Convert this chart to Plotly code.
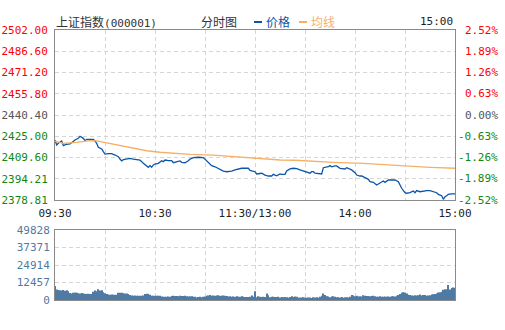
import plotly.graph_objects as go

# ---------------- data ----------------
prev_close = 2440.40

price_minute = [0, 1, 2, 4, 5, 7, 9, 10, 12, 14, 15, 17, 18, 19, 21, 23, 24, 25, 26, 28, 29, 30,
                32, 34, 36, 38, 39, 40, 41, 43, 45, 47, 49, 51, 53, 55, 56, 57, 58, 59, 60, 62,
                64, 65, 66, 68, 70, 71, 73, 75, 76, 78, 80, 81, 83, 86, 89, 90, 91, 93, 94, 96,
                97, 99, 101, 103, 105, 106, 108, 110, 112, 114, 116, 117, 119, 120, 121, 123, 124,
                126, 128, 130, 131, 133, 134, 135, 136, 138, 139, 141, 143, 145, 147, 149, 150,
                151, 153, 154, 155, 156, 158, 160, 161, 163, 164, 165, 166, 168, 169, 171, 173,
                174, 175, 177, 178, 180, 181, 183, 184, 186, 188, 189, 191, 193, 195, 197, 198,
                199, 200, 202, 204, 206, 207, 208, 210, 211, 213, 215, 216, 217, 219, 221, 223,
                225, 227, 229, 230, 232, 233, 234, 235, 236, 238, 240]
price_value = [2422.3, 2418.7, 2419.9, 2421.6, 2418.2, 2419.2, 2419.4, 2420.6, 2422.3, 2423.5, 2425.0,
               2423.5, 2421.8, 2422.8, 2422.8, 2422.8, 2421.6, 2419.9, 2417.0, 2415.8, 2413.8, 2412.1,
               2412.4, 2412.4, 2411.4, 2410.2, 2408.5, 2407.1, 2408.0, 2408.5, 2409.0, 2408.5, 2408.3,
               2407.8, 2405.4, 2403.7, 2402.5, 2403.7, 2402.5, 2404.2, 2404.9, 2405.4, 2407.3, 2406.6,
               2407.8, 2407.3, 2407.3, 2405.8, 2406.6, 2407.1, 2406.1, 2405.8, 2407.3, 2408.5, 2409.5,
               2409.8, 2409.5, 2408.3, 2406.6, 2404.2, 2403.7, 2402.9, 2402.2, 2401.3, 2399.8, 2399.3,
               2399.3, 2399.8, 2400.6, 2401.3, 2401.8, 2401.8, 2401.8, 2400.3, 2399.3, 2399.3, 2397.7,
               2397.7, 2398.2, 2396.9, 2396.2, 2396.2, 2397.4, 2396.4, 2396.9, 2397.7, 2397.4, 2397.4,
               2399.8, 2401.3, 2401.8, 2401.5, 2400.6, 2399.8, 2399.3, 2399.3, 2398.2, 2399.3, 2399.3,
               2398.2, 2397.7, 2397.7, 2402.2, 2402.5, 2402.9, 2403.7, 2402.9, 2403.5, 2403.5, 2401.8,
               2401.1, 2401.3, 2402.2, 2401.1, 2400.6, 2398.6, 2396.9, 2396.2, 2396.2, 2395.0, 2393.8,
               2392.1, 2391.6, 2389.7, 2390.9, 2392.6, 2391.6, 2392.6, 2393.3, 2393.3, 2393.3, 2392.1,
               2389.7, 2387.3, 2384.1, 2383.7, 2384.1, 2385.3, 2384.1, 2385.6, 2384.8, 2385.3, 2385.6,
               2385.6, 2384.8, 2384.1, 2382.9, 2381.9, 2379.3, 2381.2, 2381.9, 2382.9, 2383.2, 2383.2]

avg_minute = [0, 5, 13, 21, 25, 29, 33, 39, 48, 55, 63, 71, 81, 95, 103, 111, 120, 127, 135,
              144, 151, 167, 185, 192, 196, 209, 217, 225, 240]
avg_value = [2421.5, 2419.9, 2420.6, 2421.8, 2421.6, 2420.6, 2419.9, 2418.2, 2416.3, 2414.5,
             2413.4, 2412.6, 2411.9, 2411.4, 2410.7, 2409.8, 2409.0, 2408.3, 2407.8, 2407.6,
             2407.1, 2406.1, 2405.4, 2404.9, 2404.7, 2403.7, 2402.9, 2402.5, 2401.8]

volume = [
    9900, 7500, 7100, 7000, 6800, 7200, 6500, 7000, 6300, 5000,
    4600, 5200, 5300, 5100, 4800, 4700, 5000, 4700, 4500, 4300,
    4400, 4300, 4300, 5800, 6800, 6200, 7600, 6700, 7000, 5600,
    4800, 4300, 3900, 3800, 3900, 3800, 3800, 3700, 5100, 5200,
    5100, 4800, 4600, 4700, 4300, 3500, 3200, 3100, 3200, 3100,
    3000, 3100, 3000, 3200, 4300, 4500, 4200, 3800, 3100, 3000,
    3000, 3100, 3100, 3000, 2500, 2400, 2400, 2300, 2500, 2400,
    2900, 3100, 2800, 2900, 2700, 3000, 2800, 2900, 3100, 2700,
    2500, 2600, 2700, 2400, 2300, 1800, 2100, 2300, 1900, 2400,
    2500, 3100, 3200, 3500, 3100, 3200, 3000, 3200, 3300, 3100,
    3000, 3200, 3100, 2900, 2500, 2600, 2400, 2500, 2300, 2600,
    2400, 2300, 2600, 2400, 2100, 2200, 2100, 2300, 3200, 2400,
    6200, 2000, 2700, 2400, 2100, 2300, 2100, 4600, 3300, 2000,
    2400, 2300, 2200, 2100, 2300, 1700, 2100, 1900, 2200, 2000,
    1600, 2100, 2700, 2200, 2500, 2400, 1600, 1800, 1700, 1900,
    1800, 1600, 1700, 1800, 1500, 1900, 1700, 2000, 1600, 2300,
    3000, 4600, 3600, 2700, 2500, 2000, 2500, 2600, 2300, 1900,
    2000, 1800, 2100, 1600, 2000, 1900, 1800, 2300, 3500, 3200,
    2700, 3000, 2500, 2600, 2500, 3300, 3100, 2900, 2800, 2700,
    2900, 3000, 2700, 2400, 2300, 2600, 2400, 2300, 2500, 2400,
    2500, 2300, 2600, 2700, 2500, 3100, 3600, 4300, 5200, 5600,
    5400, 4600, 3800, 3500, 3200, 3100, 3300, 3200, 3400, 3900,
    3200, 3600, 3500, 3100, 3200, 3400, 3900, 4100, 4200, 4700,
    5300, 5500, 5900, 7300, 7700, 7600, 10700, 7500, 8600, 8900,
    8800,
]
volume_minute = list(range(len(volume)))

x_tick_vals = [0, 30, 60, 90, 120, 150, 180, 210, 240]
x_tick_text = ["09:30", "", "10:30", "", "11:30/13:00", "", "14:00", "", "15:00"]
price_tick_vals = [2378.81, 2394.21, 2409.60, 2425.00, 2440.40, 2455.80, 2471.20, 2486.60, 2502.00]
price_tick_text = ["2378.81", "2394.21", "2409.60", "2425.00", "2440.40", "2455.80", "2471.20", "2486.60", "2502.00"]
pct_tick_text = ["-2.52%", "-1.89%", "-1.26%", "-0.63%", "0.00%", "0.63%", "1.26%", "1.89%", "2.52%"]
vol_tick_vals = [0, 12457, 24914, 37371, 49828]
vol_tick_text = ["0", "12457", "24914", "37371", "49828"]

# ---------------- styling ----------------
W, H = 505, 330
RED, GREEN, GREY = "#ff0000", "#118811", "#555555"
PRICE_C, AVG_C, BAR_C = "#0b56a6", "#f5b068", "#4f7aa3"
GRID_C, BORDER_C = "#d6d6d6", "#8a8a8a"
MONO = "DejaVu Sans Mono"
CJK = "Noto Sans CJK SC"
DASH = "4px,3px"


def px_x(p):
    return p / W


def px_y(p):
    return 1 - p / H


def tick_color(v):
    if abs(v - prev_close) < 0.01:
        return GREY
    return RED if v > prev_close else GREEN


left_text = [f"<span style='color:{tick_color(v)}'>{t}</span>" for v, t in zip(price_tick_vals, price_tick_text)]

fig = go.Figure()
fig.add_trace(go.Scatter(x=price_minute, y=price_value, mode="lines",
                         line=dict(color=PRICE_C, width=1.3), xaxis="x", yaxis="y", name="价格"))
fig.add_trace(go.Scatter(x=avg_minute, y=avg_value, mode="lines",
                         line=dict(color=AVG_C, width=1.3), xaxis="x", yaxis="y", name="均线"))
fig.add_trace(go.Bar(x=volume_minute, y=volume, marker=dict(color=BAR_C, line=dict(width=0)),
                     xaxis="x2", yaxis="y3", name="成交量"))

common_x = dict(range=[0, 240], tickvals=x_tick_vals, showgrid=True, gridcolor=GRID_C,
                griddash=DASH, gridwidth=1, zeroline=False, showline=True, mirror=True,
                linecolor=BORDER_C, linewidth=1, ticks="", fixedrange=True, automargin=False,
                domain=[px_x(55), px_x(455)])

annotations = []
for v, t in zip(price_tick_vals, pct_tick_text):
    annotations.append(dict(x=px_x(500), y=v, xref="paper", yref="y", text=t, showarrow=False,
                            xanchor="right", yanchor="middle",
                            font=dict(family=MONO, size=11, color=tick_color(v))))

top_y = px_y(22)
annotations += [
    dict(x=px_x(54), y=top_y, xref="paper", yref="paper", xanchor="left", yanchor="middle",
         showarrow=False, text="上证指数<span style='font-family:DejaVu Sans Mono;font-size:11px'>(000001)</span>",
         font=dict(family=CJK, size=12, color="#333333")),
    dict(x=px_x(199), y=top_y, xref="paper", yref="paper", xanchor="left", yanchor="middle",
         showarrow=False, text="分时图", font=dict(family=CJK, size=12, color="#333333")),
    dict(x=px_x(264), y=top_y, xref="paper", yref="paper", xanchor="left", yanchor="middle",
         showarrow=False, text="价格", font=dict(family=CJK, size=12, color=PRICE_C)),
    dict(x=px_x(309), y=top_y, xref="paper", yref="paper", xanchor="left", yanchor="middle",
         showarrow=False, text="均线", font=dict(family=CJK, size=12, color=AVG_C)),
    dict(x=px_x(455), y=top_y, xref="paper", yref="paper", xanchor="right", yanchor="middle",
         showarrow=False, text="15:00", font=dict(family=MONO, size=11, color="#222222")),
]

shapes = [
    dict(type="line", xref="paper", yref="paper", x0=px_x(254), x1=px_x(262), y0=top_y, y1=top_y,
         line=dict(color=PRICE_C, width=2)),
    dict(type="line", xref="paper", yref="paper", x0=px_x(299), x1=px_x(307), y0=top_y, y1=top_y,
         line=dict(color=AVG_C, width=2)),
]

fig.update_layout(
    width=W, height=H, margin=dict(l=0, r=0, t=0, b=0, autoexpand=False),
    paper_bgcolor="white", plot_bgcolor="white", showlegend=False, bargap=0.4,
    xaxis=dict(**common_x, anchor="y", ticktext=x_tick_text, showticklabels=True,
               ticklabelstandoff=3, tickfont=dict(family=MONO, size=11, color="#222222")),
    xaxis2=dict(**common_x, anchor="y3", showticklabels=False),
    yaxis=dict(domain=[px_y(200), px_y(30)], range=[2378.81, 2502.00], anchor="x",
               tickvals=price_tick_vals, ticktext=left_text, showgrid=True, gridcolor=GRID_C,
               griddash=DASH, zeroline=False, showline=True, mirror=True, linecolor=BORDER_C,
               ticks="", ticklabelstandoff=4, tickfont=dict(family=MONO, size=11),
               fixedrange=True, automargin=False),
    yaxis3=dict(domain=[px_y(300), px_y(230)], range=[0, 49828], anchor="x2",
                tickvals=vol_tick_vals, ticktext=vol_tick_text, showgrid=True, gridcolor=GRID_C,
                griddash=DASH, zeroline=False, showline=True, mirror=True, linecolor=BORDER_C,
                ticks="", ticklabelstandoff=2, tickfont=dict(family=MONO, size=11, color="#4f7aa3"),
                fixedrange=True, automargin=False),
    annotations=annotations, shapes=shapes,
)

fig.write_html("out.html")
